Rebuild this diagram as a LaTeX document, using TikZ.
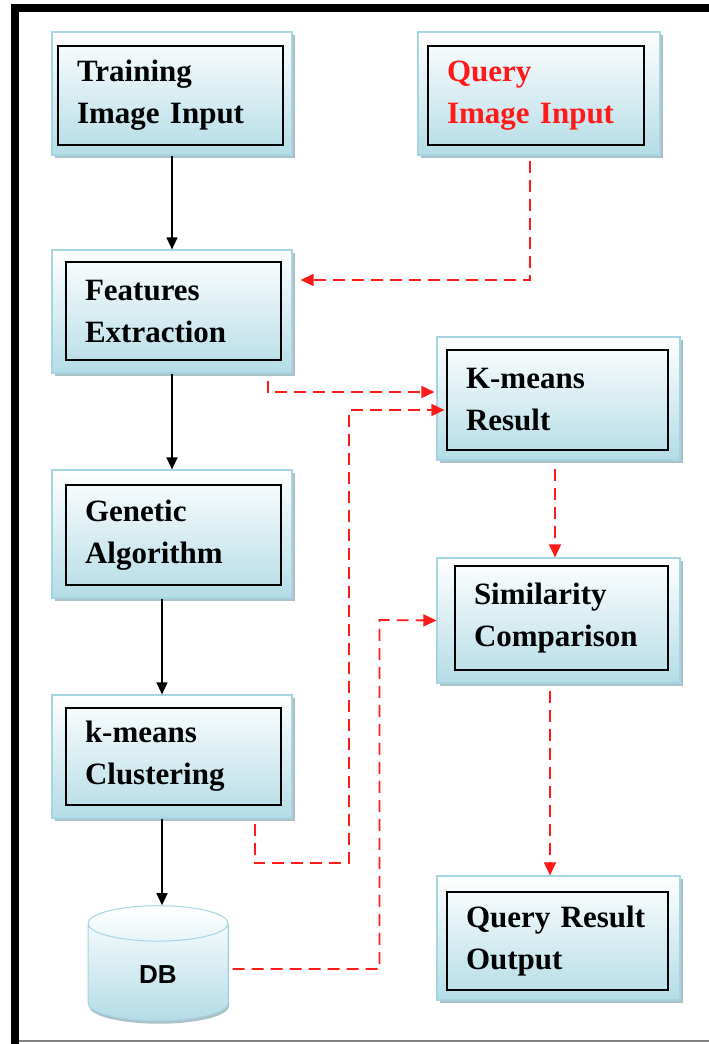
\documentclass[tikz,border=0pt]{standalone}
\usepackage{fontspec}
\setmainfont{Liberation Serif}
\setsansfont{Liberation Sans}
\usepackage{tikz}
\usetikzlibrary{shapes.geometric,shadows,arrows.meta}

\definecolor{boxblue}{RGB}{180,220,230}
\definecolor{boxedge}{RGB}{165,212,226}
\definecolor{shadowc}{RGB}{135,165,175}
\definecolor{qred}{RGB}{255,25,25}

\tikzset{
  outerbox/.style={draw=boxedge, line width=1.2pt, top color=white, bottom color=boxblue,
    drop shadow={shadow xshift=3pt, shadow yshift=-3pt, fill=shadowc, opacity=0.7}},
  innerbox/.style={draw=black, line width=1.4pt, inner xsep=0pt,
    font=\fontsize{31}{42}\selectfont\bfseries, align=left},
  dbstyle/.style={cylinder, shape border rotate=90, aspect=0.8, draw=boxedge, line width=1pt,
    top color=white, bottom color=boxblue, minimum width=140, minimum height=115,
    drop shadow={shadow xshift=1pt, shadow yshift=-3pt, fill=shadowc, opacity=0.7},
    font=\sffamily\bfseries\fontsize{26}{30}\selectfont},
  tflow/.style={-{Triangle[length=12pt,width=11pt]}, line width=1.4pt},
  qflow/.style={-{Triangle[length=13pt,width=12pt]}, qred, line width=1.8pt, dash pattern=on 12pt off 7pt}
}

\begin{document}
\begin{tikzpicture}[x=1pt,y=-1pt]
        \useasboundingbox (0,0) rectangle (709,1044);
        % frame
        \draw[line width=8pt] (15,1044) -- (15,8) -- (709,8);
        \draw[gray, line width=1.5pt] (19,1041) -- (709,1041);

        % left column
        \node[outerbox, minimum width=240, minimum height=123] (train) at (172,93.5) {};
        \node[innerbox, minimum width=225, minimum height=99, text width=187] (train-in) at (170.5,95.5) {Training\\Image Input};
        \node[outerbox, minimum width=240, minimum height=123] (feat) at (172,311.5) {};
        \node[innerbox, minimum width=215, minimum height=98, text width=177] (feat-in) at (173.5,311) {Features\\Extraction};
        \node[outerbox, minimum width=240, minimum height=128] (gen) at (172,534) {};
        \node[innerbox, minimum width=215, minimum height=100, text width=177] (gen-in) at (173.5,535) {Genetic\\Algorithm};
        \node[outerbox, minimum width=240, minimum height=123] (clus) at (172,756.5) {};
        \node[innerbox, minimum width=215, minimum height=97, text width=177] (clus-in) at (173.5,756.5) {k-means\\Clustering};
        \node[dbstyle] (db) at (158,975) {DB};

        % right column
        \node[outerbox, minimum width=242, minimum height=123] (query) at (539,93.5) {};
        \node[innerbox, minimum width=216, minimum height=99, text width=178, text=qred] (query-in) at (536,95.5) {Query\\Image Input};
        \node[outerbox, minimum width=243, minimum height=123] (kres) at (558.5,398.5) {};
        \node[innerbox, minimum width=221, minimum height=100, text width=183] (kres-in) at (557.5,400) {K-means\\Result};
        \node[outerbox, minimum width=243, minimum height=125] (sim) at (558.5,620.5) {};
        \node[innerbox, minimum width=213, minimum height=104, text width=175] (sim-in) at (561.5,618) {Similarity\\Comparison};
        \node[outerbox, minimum width=243, minimum height=124] (qres) at (558.5,938) {};
        \node[innerbox, minimum width=221, minimum height=98, text width=183] (qres-in) at (557.5,941) {Query Result\\Output};

        % training flow
        \draw[tflow] (train) -- (feat);
        \draw[tflow] (feat) -- (gen);
        \draw[tflow] ([xshift=-10pt]gen.south) -- ([xshift=-10pt]clus.north);
        \draw[tflow] ([xshift=-10pt]clus.south) -- ([xshift=-10pt]clus.south |- db.north);

        % query flow
        \draw[qflow] ([shift={(-9,5)}]query.south) |- ([shift={(8,-31.5)}]feat.east);
        \draw[qflow] ([shift={(-25,7)}]feat.south east) |- ([shift={(-2,-6.5)}]kres.west);
        \draw[qflow] ([shift={(-38,5)}]clus.south east) |- (349,863) |- ([shift={(8,11.5)}]kres.west);
        \draw[qflow] ([shift={(-3.5,8)}]kres.south) -- ([xshift=-3.5pt]sim.north);
        \draw[qflow] ([shift={(4,-6)}]db.east) -| (379.5,620) -- (sim.west);
        \draw[qflow] ([shift={(-8.5,7)}]sim.south) -- ([xshift=-8.5pt]qres.north);
    \end{tikzpicture}
\end{document}
